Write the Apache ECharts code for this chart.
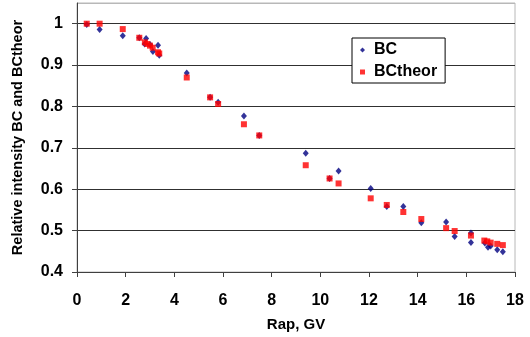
<!DOCTYPE html>
<html>
<head>
<meta charset="utf-8">
<script src="https://cdn.jsdelivr.net/npm/echarts@6/dist/echarts.min.js"></script>
<style>
html,body{margin:0;padding:0;background:#fff;}
#c{width:530px;height:337px;}
</style>
</head>
<body>
<div id="c"></div>
<script>
// Data
const bcX = [0.40, 0.93, 1.88, 2.56, 2.78, 2.84, 3.00, 3.12, 3.33, 3.38, 4.51, 5.47, 5.80, 6.86, 7.49, 9.40, 10.38, 10.75, 12.07, 12.73, 13.41, 14.15, 15.17, 15.52, 16.19, 16.19, 16.76, 16.89, 17.00, 17.27, 17.50];
const bcY = [0.998, 0.986, 0.971, 0.966, 0.951, 0.964, 0.950, 0.933, 0.948, 0.924, 0.881, 0.822, 0.810, 0.777, 0.730, 0.687, 0.626, 0.644, 0.602, 0.558, 0.558, 0.519, 0.521, 0.486, 0.494, 0.471, 0.470, 0.460, 0.463, 0.454, 0.449];
const thX = [0.40, 0.93, 1.88, 2.56, 2.79, 2.89, 3.00, 3.11, 3.33, 3.38, 4.51, 5.47, 5.80, 6.86, 7.49, 9.40, 10.38, 10.75, 12.07, 12.73, 13.41, 14.15, 15.17, 15.52, 16.19, 16.74, 16.86, 17.00, 17.27, 17.50];
const thY = [1.000, 1.000, 0.987, 0.966, 0.955, 0.951, 0.947, 0.942, 0.931, 0.928, 0.870, 0.822, 0.806, 0.757, 0.730, 0.658, 0.626, 0.614, 0.578, 0.562, 0.545, 0.528, 0.506, 0.499, 0.488, 0.476, 0.474, 0.471, 0.468, 0.465];
const seriesNames = ['BC', 'BCtheor'];
const xTitle = 'Rap, GV';
const yTitle = 'Relative intensity BC and BCtheor';

const pair = (xs, ys) => xs.map((x, i) => [x, ys[i]]);
const font = '"Liberation Sans", Arial, sans-serif';

const chart = echarts.init(document.getElementById('c'), null, {renderer: 'canvas'});
chart.setOption({
  animation: false,
  backgroundColor: '#fff',
  grid: {left: 77, right: 15, top: 3, bottom: 63, show: true, borderColor: '#b8b8b8', borderWidth: 1},
  legend: {
    data: seriesNames,
    orient: 'vertical',
    left: 352, top: 38,
    padding: [4, 8, 3, 8],
    itemGap: 6,
    itemWidth: 5, itemHeight: 5,
    borderColor: '#000', borderWidth: 1,
    backgroundColor: '#fff',
    textStyle: {fontFamily: font, fontWeight: 'bold', fontSize: 16, color: '#000', padding: [0, 0, 0, 4]}
  },
  xAxis: {
    type: 'value', min: 0, max: 18, interval: 2,
    name: xTitle, nameLocation: 'middle', nameGap: 45,
    nameTextStyle: {fontFamily: font, fontWeight: 'bold', fontSize: 15, color: '#000'},
    axisLine: {show: true, onZero: false, lineStyle: {color: '#404040', width: 1}},
    axisTick: {show: true, inside: false, length: 5, lineStyle: {color: '#404040'}},
    axisLabel: {fontFamily: font, fontWeight: 'bold', fontSize: 16, color: '#000', margin: 21},
    splitLine: {show: false}
  },
  yAxis: {
    type: 'value', min: 0.4, max: 1.05, interval: 0.1,
    name: yTitle, nameLocation: 'middle', nameGap: 52, nameRotate: 90,
    nameTextStyle: {fontFamily: font, fontWeight: 'bold', fontSize: 14.5, color: '#000'},
    axisLine: {show: true, onZero: false, lineStyle: {color: '#404040', width: 1}},
    axisTick: {show: true, inside: false, length: 5, lineStyle: {color: '#404040'}},
    axisLabel: {fontFamily: font, fontWeight: 'bold', fontSize: 16, color: '#000', margin: 14, showMaxLabel: false,
      formatter: v => (Math.abs(v - 1) < 1e-9 ? '1' : (+v.toFixed(2)).toString())},
    splitLine: {show: true, lineStyle: {color: ['#404040','#303030','#303030','#303030','#303030','#303030','#303030','#b8b8b8'], width: 1}}
  },
  series: [
    {name: seriesNames[0], type: 'scatter', symbol: 'diamond', symbolSize: [6, 7],
     itemStyle: {color: '#000080'}, data: pair(bcX, bcY), z: 2},
    {name: seriesNames[1], type: 'scatter', symbol: 'rect', symbolSize: 6,
     itemStyle: {color: '#ff0000'}, data: pair(thX, thY), z: 3}
  ]
});
</script>
</body>
</html>
